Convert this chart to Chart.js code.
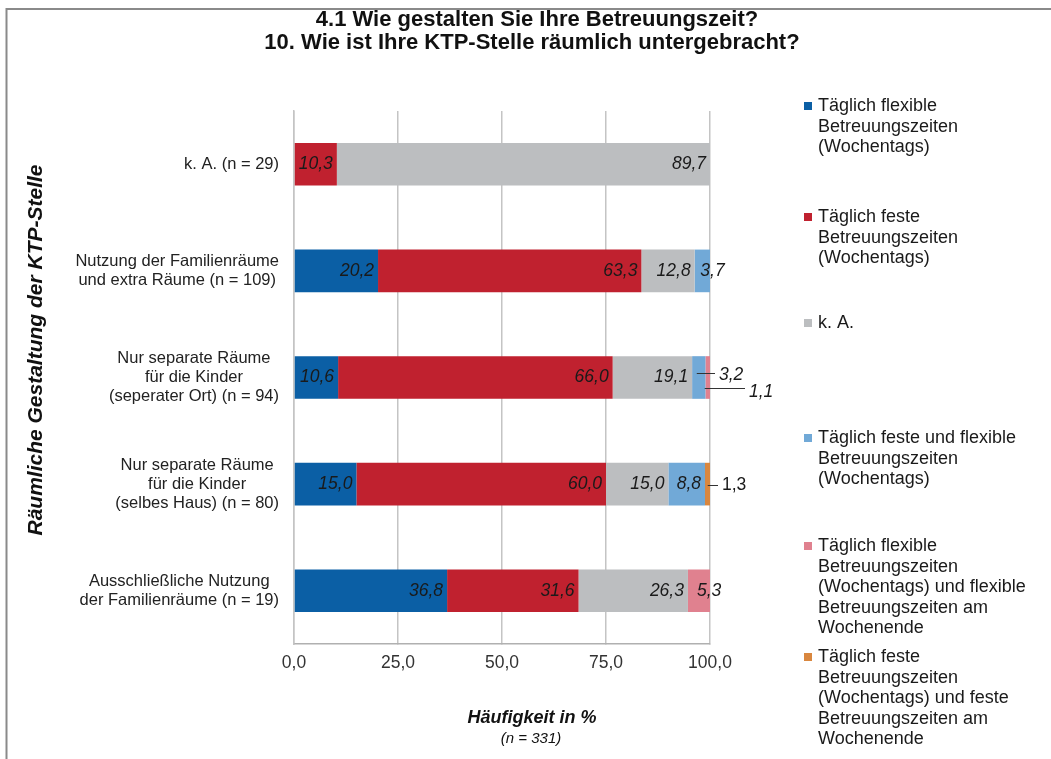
<!DOCTYPE html>
<html>
<head>
<meta charset="utf-8">
<script src="https://cdn.jsdelivr.net/npm/chart.js@4.4.0/dist/chart.umd.min.js"></script>
<style>
  body { margin: 0; background: #fff; }
  #wrap { width: 1051px; height: 759px; }
</style>
</head>
<body>
<div id="wrap"><canvas id="myChart"></canvas></div>
<script>
// categories (top to bottom)
var categories = [
    ["k. A. (n = 29)"],
    ["Nutzung der Familienräume", "und extra Räume (n = 109)"],
    ["Nur separate Räume", "für die Kinder", "(seperater Ort) (n = 94)"],
    ["Nur separate Räume", "für die Kinder", "(selbes Haus) (n = 80)"],
    ["Ausschließliche Nutzung", "der Familienräume (n = 19)"]
]

// series values in %
var flexWoche      = [0, 20.2, 10.6, 15.0, 36.8]
var festWoche      = [10.3, 63.3, 66.0, 60.0, 31.6]
var keineAngabe    = [89.7, 12.8, 19.1, 15.0, 26.3]
var festUndFlex    = [0, 3.7, 3.2, 8.8, 0]
var flexWochenende = [0, 0, 1.1, 0, 5.3]
var festWochenende = [0, 0, 0, 1.3, 0]

var seriesNames = [
    ["Täglich flexible", "Betreuungszeiten", "(Wochentags)"],
    ["Täglich feste", "Betreuungszeiten", "(Wochentags)"],
    ["k. A."],
    ["Täglich feste und flexible", "Betreuungszeiten", "(Wochentags)"],
    ["Täglich flexible", "Betreuungszeiten", "(Wochentags) und flexible", "Betreuungszeiten am", "Wochenende"],
    ["Täglich feste", "Betreuungszeiten", "(Wochentags) und feste", "Betreuungszeiten am", "Wochenende"]
]
var colors = ["#0b5fa5", "#c0212f", "#bcbec0", "#71a9d7", "#e0818f", "#d9873f"]

var xTicks = [0, 25, 50, 75, 100]

var titleLines = ["4.1 Wie gestalten Sie Ihre Betreuungszeit?", "10. Wie ist Ihre KTP-Stelle räumlich untergebracht?"]
var yTitle = "Räumliche Gestaltung der KTP-Stelle"
var xTitle = "Häufigkeit in %"
var xSubTitle = "(n = 331)"

// legend first-line positions and callouts for the tiny segments
var legendY = [106, 217, 323, 438, 546, 657]
var callouts = {
    "2-3": { x0: -2, dy: -5, x1: 715, ty: 375, italic: true },
    "2-4": { x0: -3, dy: 10, x1: 745, ty: 392, italic: true },
    "3-5": { x0: 0, dy: 1, x1: 718, ty: 485, italic: false }
}

function fmt(v) { return v.toFixed(1).replace(".", ",") }

var allSeries = [flexWoche, festWoche, keineAngabe, festUndFlex, flexWochenende, festWochenende]
var datasets = allSeries.map(function (s, i) {
    return {
        label: seriesNames[i].join(" "),
        data: s,
        backgroundColor: colors[i],
        borderWidth: 0,
        barPercentage: 0.4,
        categoryPercentage: 1
    }
})

var FONT = "Arial, 'Liberation Sans', sans-serif"

var decor = {
    id: "decor",
    afterDraw: function (chart) {
        var ctx = chart.ctx
        var yScale = chart.scales.y
        ctx.save()

        // frame
        ctx.strokeStyle = "#8a8a8a"
        ctx.lineWidth = 2
        ctx.beginPath()
        ctx.moveTo(6.5, 759)
        ctx.lineTo(6.5, 9)
        ctx.lineTo(1051, 9)
        ctx.stroke()

        // title
        ctx.fillStyle = "#111"
        ctx.textAlign = "center"
        ctx.textBaseline = "middle"
        ctx.font = "bold 22px " + FONT
        ctx.fillText(titleLines[0], 537, 20)
        ctx.fillText(titleLines[1], 532, 43)

        // y title
        ctx.save()
        ctx.translate(36, 350)
        ctx.rotate(-Math.PI / 2)
        ctx.font = "italic bold 21px " + FONT
        ctx.fillText(yTitle, 0, 0)
        ctx.restore()

        // x title
        ctx.font = "italic bold 18px " + FONT
        ctx.fillText(xTitle, 532, 718)
        ctx.font = "italic 15px " + FONT
        ctx.fillText(xSubTitle, 531, 739)

        // category labels
        ctx.fillStyle = "#222"
        ctx.font = "16.5px " + FONT
        categories.forEach(function (lines, i) {
            var cy = yScale.getPixelForValue(i)
            var w = 0
            lines.forEach(function (l) { w = Math.max(w, ctx.measureText(l).width) })
            var cx = 279 - w / 2
            var lh = 19
            lines.forEach(function (l, j) {
                ctx.fillText(l, cx, cy + (j - (lines.length - 1) / 2) * lh)
            })
        })

        // data labels
        ctx.fillStyle = "#1a1a1a"
        ctx.strokeStyle = "#333"
        ctx.lineWidth = 1
        chart.data.datasets.forEach(function (ds, d) {
            var meta = chart.getDatasetMeta(d)
            meta.data.forEach(function (bar, i) {
                var v = ds.data[i]
                if (!v) return
                var key = i + "-" + d
                ctx.textBaseline = "middle"
                if (callouts[key]) {
                    var c = callouts[key]
                    var mid = (bar.x + bar.base) / 2
                    var ly = Math.round(bar.y + c.dy) + 0.5
                    ctx.beginPath()
                    ctx.moveTo(mid + c.x0, ly)
                    ctx.lineTo(c.x1, ly)
                    ctx.stroke()
                    ctx.font = (c.italic ? "italic " : "") + "17.5px " + FONT
                    ctx.textAlign = "left"
                    ctx.fillText(fmt(v), c.x1 + 4, c.ty)
                } else if (v < 6) {
                    ctx.font = "italic 17.5px " + FONT
                    ctx.textAlign = "left"
                    ctx.fillText(fmt(v), (bar.x + bar.base) / 2 - 2, bar.y)
                } else {
                    ctx.font = "italic 17.5px " + FONT
                    ctx.textAlign = "right"
                    ctx.fillText(fmt(v), bar.x - 4, bar.y)
                }
            })
        })

        // legend
        ctx.textAlign = "left"
        ctx.textBaseline = "middle"
        ctx.font = "18px " + FONT
        seriesNames.forEach(function (lines, i) {
            var y0 = legendY[i]
            ctx.fillStyle = colors[i]
            ctx.fillRect(804, y0 - 4, 8, 8)
            ctx.fillStyle = "#1a1a1a"
            lines.forEach(function (l, j) {
                ctx.fillText(l, 818, y0 + j * 20.6)
            })
        })
        ctx.restore()
    }
}

const ctx = document.getElementById("myChart")

new Chart(ctx, {
    type: "bar",
    data: {
        labels: categories.map(function (c) { return c.join(" ") }),
        datasets: datasets
    },
    options: {
        indexAxis: "y",
        responsive: true,
        maintainAspectRatio: false,
        animation: false,
        devicePixelRatio: 1,
        layout: { padding: { top: 111, right: 341, left: 0, bottom: 0 } },
        plugins: {
            legend: { display: false },
            title: { display: false },
            tooltip: { enabled: false }
        },
        scales: {
            x: {
                stacked: true,
                min: 0,
                max: 100,
                afterFit: function (s) { s.height = 115 },
                afterBuildTicks: function (s) {
                    s.ticks = xTicks.map(function (v) { return { value: v } })
                },
                ticks: {
                    callback: function (v) { return fmt(v) },
                    font: { size: 17.5, family: FONT },
                    color: "#333",
                    padding: 9,
                    maxRotation: 0
                },
                grid: { color: "#c4c4c4", lineWidth: 1.5, tickLength: 0 },
                border: { color: "#b0b0b0", width: 1.5 }
            },
            y: {
                stacked: true,
                afterFit: function (s) { s.width = 294 },
                ticks: { display: false },
                grid: { display: false },
                border: { color: "#c4c4c4", width: 1.5 }
            }
        }
    },
    plugins: [decor]
})
</script>
</body>
</html>
